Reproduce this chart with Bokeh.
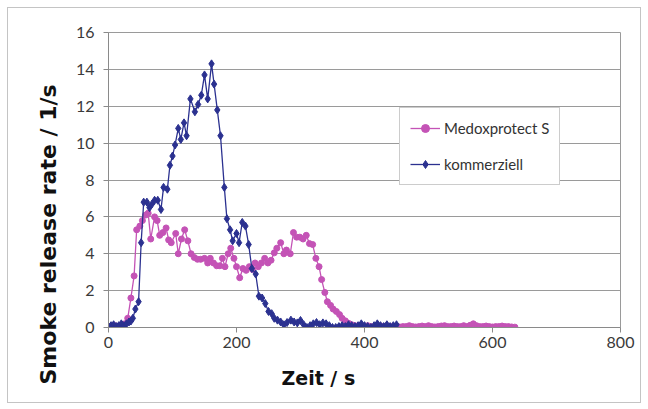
from bokeh.plotting import figure
from bokeh.models import Legend, LegendItem, Title, FixedTicker
from bokeh.embed import file_html
from bokeh.resources import INLINE

# ---- data ----
medox_t = [0, 5, 10, 15, 20, 25, 30, 35, 40, 44, 49, 53, 58, 62, 66, 72, 76, 80, 85,
           90, 94, 98, 105, 109, 114, 119, 124, 129, 134, 139, 144, 150, 155, 159, 164,
           169, 174, 178, 182, 187, 191, 196, 200, 205, 210, 215, 220, 225, 229, 234,
           239, 244, 249, 254, 259, 263, 269, 274, 278, 284, 289, 294, 299, 304, 309,
           314, 319, 324, 329, 333, 338, 342, 347, 351, 356, 361, 365, 370, 375, 380,
           385, 390, 395, 400, 405, 410, 415, 420, 425, 430, 435, 440, 445, 450, 455,
           460, 465, 470, 475, 480, 485, 490, 495, 500, 505, 510, 515, 520, 525, 530,
           535, 540, 545, 550, 555, 560, 565, 570, 575, 580, 585, 590, 595, 600, 605,
           610, 615, 620, 625, 630, 635]
medox_v = [0.05, 0.05, 0.1, 0.05, 0.1, 0.2, 0.5, 1.6, 2.8, 5.3, 5.5, 5.8, 6.1, 6.2, 4.8,
           6.0, 5.8, 5.0, 5.15, 5.4, 4.75, 4.6, 5.1, 4.0, 4.8, 5.3, 4.7, 4.0, 3.8, 3.7,
           3.7, 3.75, 3.5, 3.75, 3.5, 3.35, 3.35, 3.75, 3.3, 4.0, 4.3, 3.75, 3.3, 2.7,
           3.2, 3.1, 3.3, 3.15, 3.5, 3.3, 3.5, 3.75, 3.5, 3.65, 4.05, 4.3, 4.6, 4.0, 4.2,
           4.0, 5.15, 4.9, 4.9, 4.8, 5.0, 4.55, 4.5, 3.75, 3.3, 2.6, 1.9, 1.4, 1.2, 1.0,
           0.87, 0.7, 0.5, 0.36, 0.23, 0.15,
           0.1, 0.08, 0.05, 0.05, 0.1, 0.05, 0.03, 0.05, 0.08, 0.05,
           0.1, 0.05, 0.05, 0.08, 0.03, 0.05, 0.05, 0.1, 0.05, 0.03,
           0.05, 0.08, 0.05, 0.1, 0.05, 0.03, 0.05, 0.08, 0.1, 0.05,
           0.05, 0.08, 0.05, 0.05, 0.1, 0.05, 0.12, 0.2, 0.1, 0.05,
           0.05, 0.08, 0.05, 0.03, 0.05, 0.05, 0.08, 0.05, 0.05, 0.03, 0.02]

komm_t = [0, 4, 8, 12, 16, 20, 24, 28, 32, 35, 38, 42, 47, 51, 55, 60, 64, 68, 72, 77,
          82, 86, 92, 96, 100, 104, 109, 113, 118, 122, 128, 135, 140, 145, 150, 155,
          161, 165, 170, 175, 181, 185, 190, 194, 200, 204, 209, 214, 219, 224, 230,
          235, 240, 245, 250, 255, 259, 264, 269, 274, 279, 285, 290, 295, 300, 305,
          310, 315, 320, 325, 330, 335, 340, 345, 350, 355, 360, 365, 370, 375, 380,
          385, 390, 395, 400, 405, 410, 415, 420, 425, 430, 435, 440, 445, 450]
komm_v = [0.05, 0.1, 0.15, 0.05, 0.1, 0.2, 0.1, 0.2, 0.3, 0.35, 0.5, 1.0, 1.4, 4.6, 6.8,
          6.8, 6.5, 6.7, 6.9, 6.9, 6.4, 7.6, 7.5, 8.8, 9.3, 9.9, 10.8, 10.2, 11.1, 10.4,
          12.4, 11.7, 12.1, 12.6, 13.7, 12.4, 14.3, 13.2, 11.8, 10.4, 7.6, 5.9, 5.3, 4.7,
          5.1, 4.6, 5.7, 5.5, 4.5, 3.2, 2.9, 1.7, 1.6, 1.3, 0.87, 0.75, 0.5, 0.4, 0.3,
          0.15, 0.27, 0.4, 0.3, 0.25, 0.38, 0.15, 0.0, 0.1, 0.2, 0.27,
          0.15, 0.25, 0.2, 0.1, 0.0, 0.0, 0.05, 0.1, 0.05, 0.15, 0.1, 0.05, 0.1, 0.2,
          0.1, 0.05, 0.0, 0.1, 0.2, 0.1, 0.05, 0.15, 0.05, 0.1, 0.15]

x_ticks = [0, 200, 400, 600, 800]
y_ticks = [0, 2, 4, 6, 8, 10, 12, 14, 16]
series_names = ["Medoxprotect S", "kommerziell"]
x_title = "Zeit / s"
y_title = "Smoke release rate / 1/s"

PINK = "#c453b6"
BLUE = "#2b3190"
FONT = "Lato"
TITLE_FONT = "DejaVu Sans"

p = figure(width=634, height=396, x_range=(0, 800), y_range=(0, 16),
           output_backend="svg", toolbar_location=None,
           min_border_left=100, min_border_right=22, min_border_top=24,
           min_border_bottom=77)
p.margin = (7, 0, 0, 7)
p.styles = {"border": "1px solid #c4c4c4"}
p.background_fill_color = "white"
p.border_fill_color = "white"
p.outline_line_color = "#9a9a9a"

p.xaxis.ticker = FixedTicker(ticks=x_ticks)
p.yaxis.ticker = FixedTicker(ticks=y_ticks)
for ax in (p.xaxis[0], p.yaxis[0]):
    ax.axis_line_color = "#8a8a8a"
    ax.major_tick_line_color = "#8a8a8a"
    ax.major_tick_out = 5
    ax.major_tick_in = 0
    ax.minor_tick_line_color = None
    ax.major_label_text_font = FONT
    ax.major_label_text_font_size = "16px"
    ax.major_label_text_color = "#3a3a3a"
p.xaxis.major_label_standoff = 4
p.yaxis.major_label_standoff = 9

p.xgrid.grid_line_color = None
p.ygrid.grid_line_color = "#9a9a9a"
p.ygrid.grid_line_width = 1

l1 = p.line(medox_t, medox_v, line_color=PINK, line_width=1.3)
m1 = p.scatter(medox_t, medox_v, marker="circle", size=6, fill_color=PINK,
               line_color=PINK)
l2 = p.line(komm_t, komm_v, line_color=BLUE, line_width=1.3)
m2 = p.scatter(komm_t, komm_v, marker="diamond", size=8, fill_color=BLUE,
               line_color=BLUE)

legend = Legend(items=[LegendItem(label=series_names[0], renderers=[l1, m1]),
                       LegendItem(label=series_names[1], renderers=[l2, m2])],
                location=(291, 142))
legend.label_text_font = FONT
legend.label_text_font_size = "15px"
legend.label_text_color = "#333333"
legend.glyph_width = 30
legend.glyph_height = 20
legend.label_height = 20
legend.spacing = 16
legend.padding = 10
legend.margin = 0
legend.label_standoff = 4
legend.border_line_color = "#9a9a9a"
legend.border_line_width = 1
legend.background_fill_color = "white"
legend.background_fill_alpha = 1
p.add_layout(legend, "center")

p.add_layout(Title(text=x_title, align="left", offset=173, text_font=TITLE_FONT,
                   text_font_style="bold", text_font_size="19px",
                   text_color="#111111", standoff=28), "below")
p.add_layout(Title(text=y_title, align="left", offset=-57, text_font=TITLE_FONT,
                   text_font_style="bold", text_font_size="22px",
                   text_color="#111111", standoff=23), "left")

open("out.html", "w").write(file_html(p, INLINE))
